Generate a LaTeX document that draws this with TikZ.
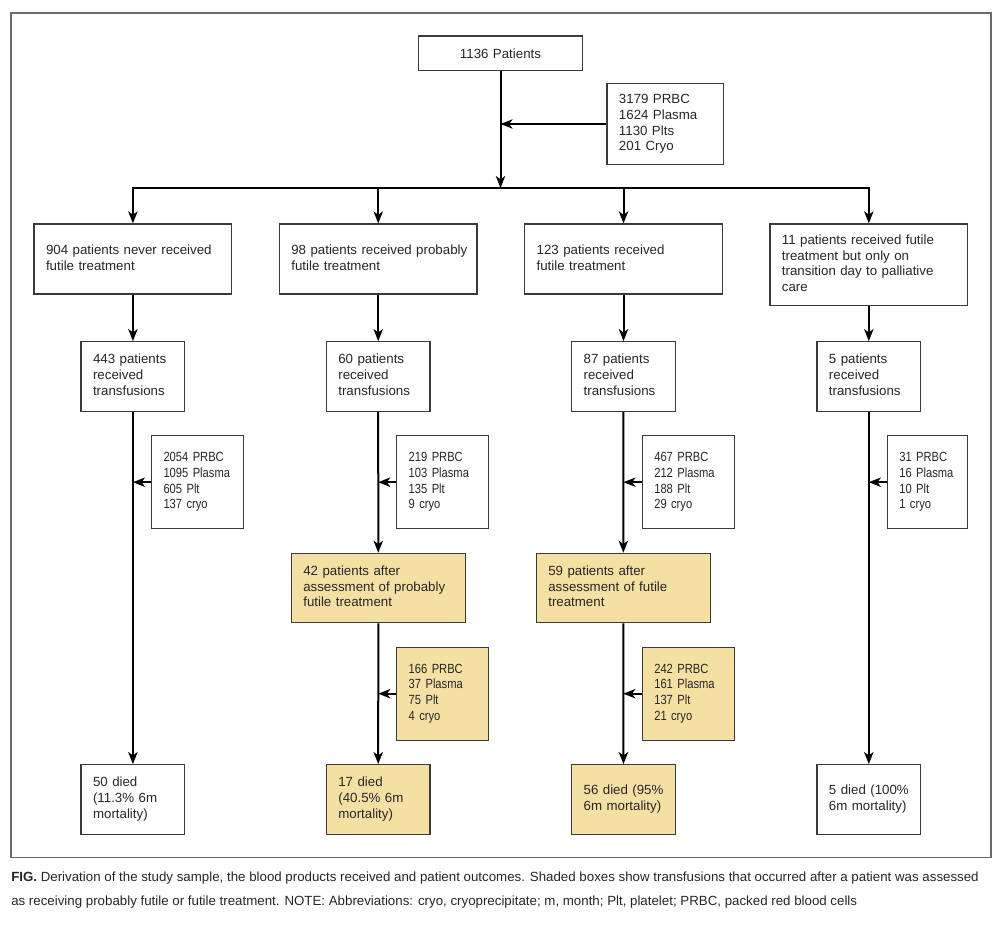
\documentclass[tikz,border=0pt]{standalone}
\usepackage{fontspec}
\setmainfont{Liberation Sans}
\newfontfamily\narrowf[FakeStretch=0.84]{Liberation Sans}
\usetikzlibrary{arrows.meta}
\definecolor{shade}{HTML}{F5E0A3}
\definecolor{boxline}{HTML}{3A3A3A}
\definecolor{framec}{HTML}{6A6A6A}
\definecolor{txt}{HTML}{262626}
\newcommand{\bfs}{\fontsize{9.975pt}{11.8pt}\selectfont}
\newcommand{\boxlines}[1]{\begin{tabular}{@{}l@{}}#1\end{tabular}}
\begin{document}
\begin{tikzpicture}[x=0.75pt,y=-0.75pt,
  box/.style={draw=boxline, line width=0.9pt, inner xsep=9pt, inner ysep=0pt,
    align=left, font=\bfs, text=txt},
  widebox/.style={box, text width=130.3pt, minimum height=52.5pt},
  smallbox/.style={box, text width=59.8pt, minimum height=52.2pt},
  sidebox/.style={box, font=\narrowf\bfs, text width=51pt, minimum height=69.8pt},
  assessbox/.style={box, fill=shade, text width=112.5pt, minimum height=52pt},
  shaded/.style={fill=shade},
  arr/.style={-{Stealth[length=9pt,width=7pt,inset=2.5pt]}, line width=1.5pt},
  plain/.style={line width=1.5pt, line cap=rect},
  caption/.style={anchor=base west, font=\bfs, inner sep=0pt, text=txt}
]
\useasboundingbox (0,0) rectangle (1000,925);
\draw[framec, line width=1.1pt] (11,13) rectangle (991,857.7);

% top
\node[box, align=center, text width=104.8pt, minimum height=26pt] (top) at (500.5,53.3) {1136 Patients};
\node[box, text width=69.5pt, minimum height=61pt] (tot) at (665.3,124) {\boxlines{3179 PRBC\\1624 Plasma\\1130 Plts\\201 Cryo}};

% row 1
\node[widebox] (a1) at (132.9,259) {\boxlines{904 patients never received\\futile treatment}};
\node[widebox] (a2) at (378.2,259) {\boxlines{98 patients received probably\\futile treatment}};
\node[widebox] (a3) at (623.5,259) {\boxlines{123 patients received\\futile treatment}};
\node[widebox, minimum height=61.3pt] (a4) at (868.8,264.85) {\boxlines{11 patients received futile\\treatment but only on\\transition day to palliative\\care}};

% row 2
\node[smallbox] (b1) at (132.9,376.5) {\boxlines{443 patients\\received\\transfusions}};
\node[smallbox] (b2) at (378.2,376.5) {\boxlines{60 patients\\received\\transfusions}};
\node[smallbox] (b3) at (623.5,376.5) {\boxlines{87 patients\\received\\transfusions}};
\node[smallbox] (b4) at (868.8,376.5) {\boxlines{5 patients\\received\\transfusions}};

% side boxes
\node[sidebox] (s1) at (197.5,482.2) {\boxlines{2054 PRBC\\1095 Plasma\\605 Plt\\137 cryo}};
\node[sidebox] (s2) at (442.7,482.2) {\boxlines{219 PRBC\\103 Plasma\\135 Plt\\9 cryo}};
\node[sidebox] (s3) at (688.3,482.2) {\boxlines{467 PRBC\\212 Plasma\\188 Plt\\29 cryo}};
\node[sidebox, text width=42.3pt] (s4) at (927.5,482.2) {\boxlines{31 PRBC\\16 Plasma\\10 Plt\\1 cryo}};

% assessment boxes
\node[assessbox] (y2) at (378.3,588) {\boxlines{42 patients after\\assessment of probably\\futile treatment}};
\node[assessbox] (y3) at (623.3,588) {\boxlines{59 patients after\\assessment of futile\\treatment}};
\node[sidebox, shaded] (z2) at (442.7,693.7) {\boxlines{166 PRBC\\37 Plasma\\75 Plt\\4 cryo}};
\node[sidebox, shaded] (z3) at (688.3,693.7) {\boxlines{242 PRBC\\161 Plasma\\137 Plt\\21 cryo}};

% outcome boxes
\node[smallbox] (d1) at (132.9,799.5) {\boxlines{50 died\\(11.3\% 6m\\mortality)}};
\node[smallbox, shaded] (d2) at (378.2,799.5) {\boxlines{17 died\\(40.5\% 6m\\mortality)}};
\node[smallbox, shaded] (d3) at (623.5,799.5) {\boxlines{56 died (95\%\\6m mortality)}};
\node[smallbox] (d4) at (868.8,799.5) {\boxlines{5 died (100\%\\6m mortality)}};

% connectors
\coordinate (bar) at (500.5,188);
\draw[arr] (top) -- (top.south |- bar);
\draw[arr] (tot.west) -- (tot.west -| top.south);
\draw[plain] (a1.north |- bar) -- (a4.north |- bar);
\draw[arr] (a1.north |- bar) -- (a1);
\draw[arr] (a2.north |- bar) -- (a2);
\draw[arr] (a3.north |- bar) -- (a3);
\draw[arr] (a4.north |- bar) -- (a4);

\draw[arr] (a1) -- (b1);
\draw[arr] (a2) -- (b2);
\draw[arr] (a3) -- (b3);
\draw[arr] (a4) -- (b4);

\draw[arr] (b1) -- (d1);
\draw[arr] (b2) -- (y2);
\draw[arr] (b3) -- (y3);
\draw[arr] (b4) -- (d4);
\draw[arr] (y2) -- (d2);
\draw[arr] (y3) -- (d3);

\draw[arr] (s1.west) -- (s1.west -| b1.south);
\draw[arr] (s2.west) -- (s2.west -| b2.south);
\draw[arr] (s3.west) -- (s3.west -| b3.south);
\draw[arr] (s4.west) -- (s4.west -| b4.south);
\draw[arr] (z2.west) -- (z2.west -| y2.south);
\draw[arr] (z3.west) -- (z3.west -| y3.south);

% caption
\node[caption] (cap1) at (11,881.5) {\textbf{FIG.} Derivation of the study sample, the blood products received and patient outcomes. Shaded boxes show transfusions that occurred after a patient was assessed};
\node[caption] (cap2) at (11,905.5) {as receiving probably futile or futile treatment. NOTE: Abbreviations: cryo, cryoprecipitate; m, month; Plt, platelet; PRBC, packed red blood cells};
\end{tikzpicture}
\end{document}
